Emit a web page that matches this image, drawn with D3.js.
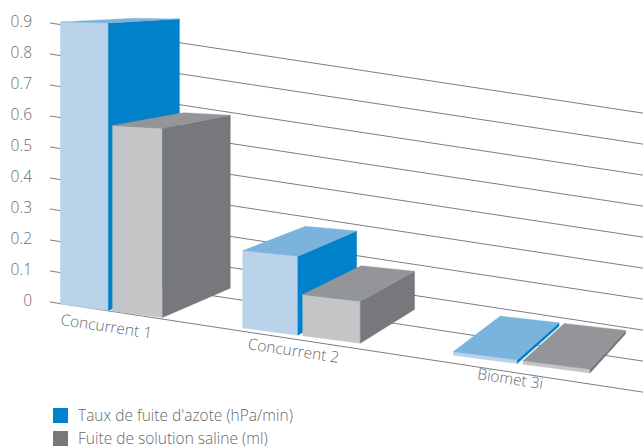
<!DOCTYPE html>
<html>
<head>
<meta charset="utf-8">
<script src="https://cdn.jsdelivr.net/npm/d3@7"></script>
<style>
  body { margin: 0; background: #fff; }
  text { font-family: "Open Sans", "Noto Sans", sans-serif; fill: #68696c; }
</style>
</head>
<body>
<div class="chart"></div>
<script>

const categories = ['Concurrent 1', 'Concurrent 2', 'Biomet 3i'];
const seriesNames = ["Taux de fuite d'azote (hPa/min)", 'Fuite de solution saline (ml)'];
const azote = [0.9, 0.23, 0.01];
const saline = [0.58, 0.12, 0.01];
const yTicks = [0, 0.1, 0.2, 0.3, 0.4, 0.5, 0.6, 0.7, 0.8, 0.9];

const width = 643;
const height = 446;

// face colours: front, side, top
const palette = [
	{ front: '#bad3ea', side: '#0081c9', top: '#7ab4dc', legend: '#0081c9' },
	{ front: '#c4c5c7', side: '#77787b', top: '#949598', legend: '#77787b' }
];

const svg = d3.select('.chart').append('svg')
	.attr('width', width)
	.attr('height', height);

// simple two point perspective camera
const phi = -25.4 * Math.PI / 180;
const cam = { x: 6.068, y: 2.476, z: -8.188 };
const focal = 1329;
const cx = 320;
const cy = -25;

function project(p) {
	const rx = p[0] - cam.x;
	const ry = p[1] - cam.y;
	const rz = p[2] - cam.z;
	const xc = rx * Math.cos(phi) - rz * Math.sin(phi);
	const zc = rx * Math.sin(phi) + rz * Math.cos(phi);
	return [cx + focal * xc / zc, cy - focal * ry / zc];
}

// scales in world units
const xCat = d3.scaleBand().domain(categories).range([0.02, 4.70]);
const xSeries = d3.scaleBand().domain([0, 1]).range([0, 0.9]).paddingInner(0.08);
const hScale = d3.scaleLinear().domain([0, 1]).range([0, 2.358]);
const depth = 1.0;

// flat axis on the left
const y2d = d3.scaleLinear().domain([0, 0.9]).range([302, 23]);
const slope = 0.152;
const gridX0 = 50;

svg.selectAll('.grid')
	.data(yTicks)
	.enter()
	.append('line')
	.attr('x1', gridX0)
	.attr('y1', d => y2d(d))
	.attr('x2', width)
	.attr('y2', d => y2d(d) + slope * (width - gridX0))
	.attr('stroke', '#7d7e80')
	.attr('stroke-width', 1)
	.attr('class', 'grid');

svg.selectAll('.tick-label')
	.data(yTicks)
	.enter()
	.append('text')
	.text(d => d === 0 ? '0' : d3.format('.1f')(d))
	.attr('x', 32)
	.attr('y', d => y2d(d) - 1.5)
	.attr('dy', '0.35em')
	.attr('text-anchor', 'end')
	.attr('font-size', 15.5)
	.attr('font-weight', 300)
	.attr('class', 'tick-label');

// build boxes
const boxes = [];
categories.forEach((c, i) => {
	[azote[i], saline[i]].forEach((v, s) => {
		const x0 = xCat(c) + xSeries(s);
		boxes.push({ x0: x0, x1: x0 + xSeries.bandwidth(), h: hScale(v), s: s });
	});
});

const line = d3.line();

function faces(b) {
	const D = depth;
	return [
		{ key: 'front', pts: [[b.x0, 0, 0], [b.x1, 0, 0], [b.x1, b.h, 0], [b.x0, b.h, 0]] },
		{ key: 'side', pts: [[b.x1, 0, 0], [b.x1, 0, D], [b.x1, b.h, D], [b.x1, b.h, 0]] },
		{ key: 'top', pts: [[b.x0, b.h, 0], [b.x1, b.h, 0], [b.x1, b.h, D], [b.x0, b.h, D]] }
	];
}

const boxGroups = svg.selectAll('.box')
	.data(boxes)
	.enter()
	.append('g')
	.attr('class', 'box');

boxGroups.selectAll('path')
	.data(d => faces(d).map(f => ({ ...f, s: d.s })))
	.enter()
	.append('path')
	.attr('d', d => line(d.pts.map(project)) + 'Z')
	.attr('fill', d => palette[d.s][d.key])
	.attr('stroke', d => palette[d.s][d.key])
	.attr('stroke-width', 0.4);

// category labels, set a little left of the middle of each group
svg.selectAll('.cat')
	.data(categories)
	.enter()
	.append('text')
	.text(d => d)
	.attr('transform', d => {
		const p = project([xCat(d) + 0.3, 0, 0]);
		return `translate(${p[0] + 12},${p[1] + 23}) rotate(8.7)`;
	})
	.attr('text-anchor', 'middle')
	.attr('font-size', 15.5)
	.attr('font-weight', 300)
	.attr('class', 'cat');

// legend
const legend = svg.selectAll('.legend')
	.data(seriesNames)
	.enter()
	.append('g')
	.attr('class', 'legend')
	.attr('transform', (d, i) => `translate(53,${408 + i * 23})`);

legend.append('rect')
	.attr('width', 15)
	.attr('height', 15)
	.attr('fill', (d, i) => palette[i].legend);

legend.append('text')
	.text(d => d)
	.attr('x', 25)
	.attr('y', 12.5)
	.attr('font-size', 15.5)
	.attr('font-weight', 300);

</script>
</body>
</html>
